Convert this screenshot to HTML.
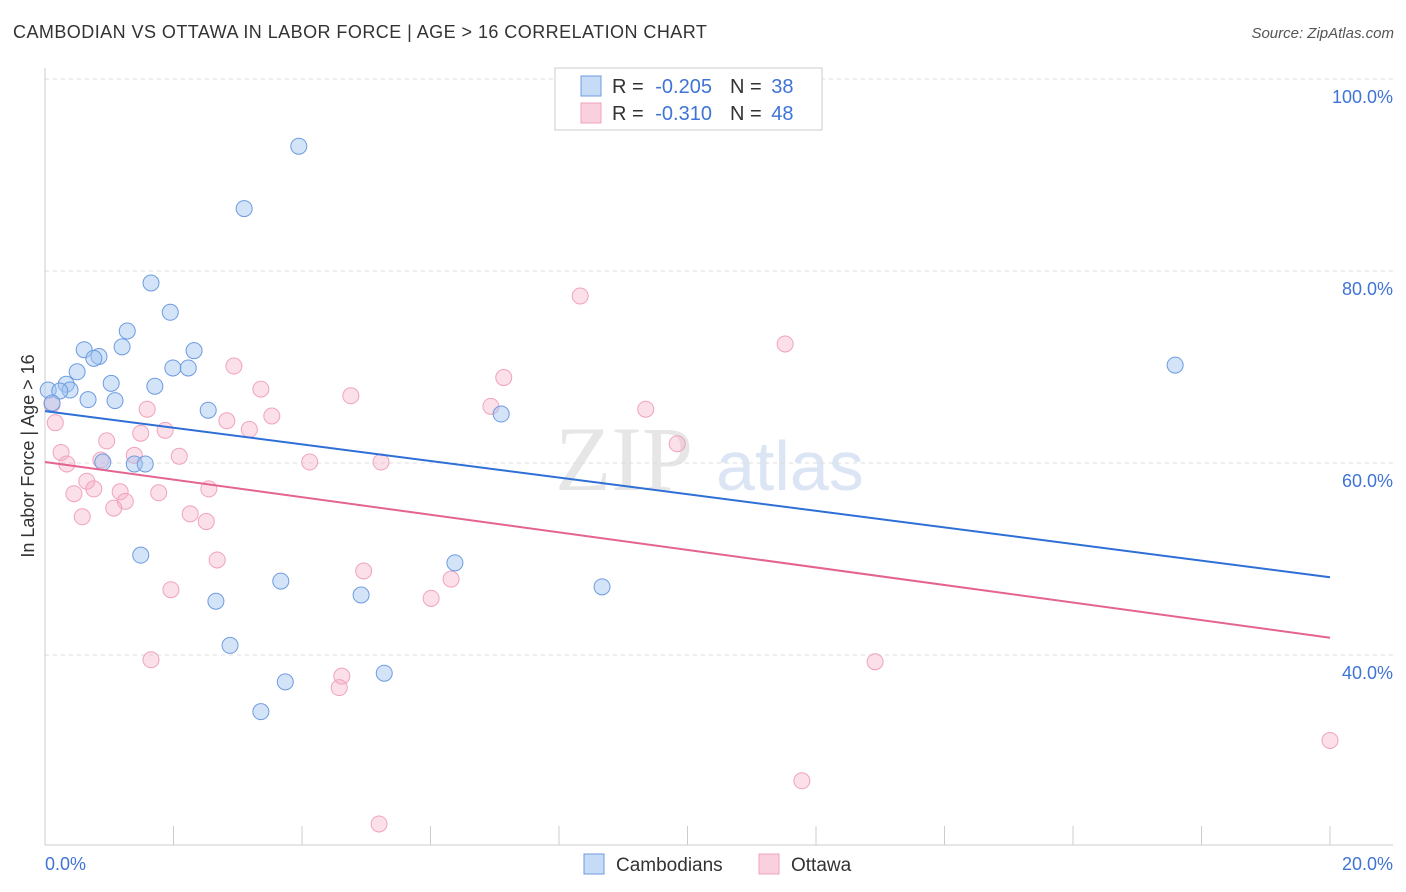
<!DOCTYPE html>
<html><head><meta charset="utf-8"><style>
body{margin:0;background:#fff;font-family:"Liberation Sans",sans-serif;}
#wrap{position:relative;width:1406px;height:892px;overflow:hidden;}
.t{position:absolute;white-space:nowrap;}
</style></head><body>
<div id="wrap">
<div class="t" style="left:13px;top:22px;font-size:18px;color:#333;letter-spacing:0.45px">CAMBODIAN VS OTTAWA IN LABOR FORCE | AGE &gt; 16 CORRELATION CHART</div>
<div class="t" style="right:12px;top:25px;font-size:15px;color:#555;font-style:italic">Source: ZipAtlas.com</div>
<svg id="svg" width="1406" height="892" style="position:absolute;left:0;top:0"></svg>
</div>
<script>
const blueX=[3.95,3.10,1.65,1.95,1.28,0.61,1.20,0.84,0.76,2.32,1.99,2.23,0.50,1.03,1.71,0.33,0.39,0.05,0.23,0.67,1.09,0.11,2.54,7.10,17.59,0.90,1.39,1.56,1.49,6.38,3.67,8.67,4.92,2.66,2.88,3.74,5.28,3.36];
const blueY=[93.0,86.5,78.75,75.7,73.75,71.8,72.1,71.1,70.9,71.7,69.9,69.9,69.5,68.3,68.0,68.2,67.6,67.6,67.5,66.6,66.5,66.25,65.5,65.1,70.2,60.1,59.9,59.9,50.4,49.6,47.7,47.1,46.25,45.6,41.0,37.2,38.1,34.1];
const pinkX=[8.33,11.52,2.94,3.36,7.14,4.76,6.94,9.35,1.59,3.53,2.83,0.11,0.16,3.18,1.87,1.49,0.96,9.84,0.25,2.09,1.39,0.34,0.87,4.12,5.23,0.65,0.76,1.17,2.55,1.77,0.45,1.25,1.07,2.26,0.58,2.51,2.68,4.96,6.32,1.96,6.01,1.65,12.92,4.62,4.58,20.0,11.78,5.20];
const pinkY=[77.4,72.4,70.1,67.7,68.9,67.0,65.9,65.6,65.6,64.9,64.4,66.1,64.2,63.5,63.4,63.1,62.3,62.0,61.1,60.7,60.8,59.9,60.3,60.1,60.1,58.1,57.3,57.0,57.3,56.9,56.8,56.0,55.3,54.7,54.4,53.9,49.9,48.75,47.9,46.8,45.9,39.5,39.3,37.8,36.6,31.1,26.9,22.4];
const blueTrend=[65.4,48.1];
const pinkTrend=[60.1,41.8];
const yTicks=[100,80,60,40];
const yTickLabels=["100.0%","80.0%","60.0%","40.0%"];
const xAxisLabels=["0.0%","20.0%"];

const NS="http://www.w3.org/2000/svg";
const svg=document.getElementById('svg');
const X0=45,X1=1330,YT=79,PXY=9.6;
const sx=v=>X0+(v/20)*(X1-X0);
const sy=v=>YT+(100-v)*PXY;
function mk(tag,attrs,parent){const e=document.createElementNS(NS,tag);for(const k in attrs)e.setAttribute(k,attrs[k]);(parent||svg).appendChild(e);return e;}

let wm=mk('text',{x:555,y:490,'font-size':92,'font-family':'Liberation Serif, serif',fill:'#e6e6e6'});wm.textContent='ZIP';


let wm2=mk('text',{x:716,y:490,'font-size':70,'font-family':'Liberation Sans, sans-serif',fill:'#dbe5f4'});wm2.textContent='atlas';



yTicks.forEach((t,i)=>{
  const g=mk('line',{x1:X0,x2:1393,y1:sy(t),y2:sy(t),stroke:'#dcdcdc','stroke-dasharray':'4,4'});
  
  
  const l=mk('text',{x:1393,y:sy(t)+24,'text-anchor':'end','font-size':18,fill:'#3f74d6'});
  l.textContent=yTickLabels[i];
  
  
});
let ya=mk('line',{x1:X0,x2:X0,y1:68,y2:845,stroke:'#ccc'});


let xa=mk('line',{x1:X0,x2:1393,y1:845,y2:845,stroke:'#ccc'});


for(let i=0;i<=10;i++){const x=sx(i*2);const tk=mk('line',{x1:x,x2:x,y1:826,y2:845,stroke:'#ccc'});

}
let xl0=mk('text',{x:45,y:870,'font-size':18,fill:'#3f74d6'});xl0.textContent=xAxisLabels[0];


let xl1=mk('text',{x:1393,y:870,'text-anchor':'end','font-size':18,fill:'#3f74d6'});xl1.textContent=xAxisLabels[1];


let yt=mk('text',{x:34,y:456,'font-size':18,fill:'#333','text-anchor':'middle',transform:'rotate(-90 34 456)'});yt.textContent='In Labor Force | Age > 16';



function pts(xs,ys,fill,stroke,name){xs.forEach((v,i)=>{const c=mk('circle',{cx:sx(v),cy:sy(ys[i]),r:8,fill:fill,stroke:stroke,'stroke-width':1});

});}
pts(pinkX,pinkY,'rgba(246,176,200,0.4)','#f0a3bd','ottawa-point');
pts(blueX,blueY,'rgba(160,195,240,0.45)','#6d9be0','cambodian-point');
let bl=mk('line',{x1:sx(0),y1:sy(blueTrend[0]),x2:sx(20),y2:sy(blueTrend[1]),stroke:'#2e6fd6','stroke-width':2});


let pl=mk('line',{x1:sx(0),y1:sy(pinkTrend[0]),x2:sx(20),y2:sy(pinkTrend[1]),stroke:'#e5638f','stroke-width':2});



let lb=mk('rect',{x:555,y:68,width:267,height:62,fill:'#fff',stroke:'#ccc'});


[[86,'rgba(160,195,240,0.6)','#6d9be0','-0.205','38'],[113,'rgba(246,176,200,0.6)','#f0a3bd','-0.310','48']].forEach((r,i)=>{
  const s=mk('rect',{x:581,y:r[0]-10,width:20,height:20,fill:r[1],stroke:r[2]});
  
  
  const t=mk('text',{x:612,y:r[0]+7,'font-size':20,fill:'#333'});
  t.innerHTML='R = <tspan fill="#3f74d6" dx="6">'+r[3]+'</tspan><tspan dx="18">N = </tspan><tspan fill="#3f74d6" dx="4">'+r[4]+'</tspan>';
  
  
});
[[584,'rgba(160,195,240,0.6)','#6d9be0','Cambodians'],[759,'rgba(246,176,200,0.6)','#f0a3bd','Ottawa']].forEach(r=>{
  const s=mk('rect',{x:r[0],y:854,width:20,height:20,fill:r[1],stroke:r[2]});
  
  
  const t=mk('text',{x:r[0]+32,y:871,'font-size':19,fill:'#333'});t.textContent=r[3];
  
  
});
</script>
</body></html>
